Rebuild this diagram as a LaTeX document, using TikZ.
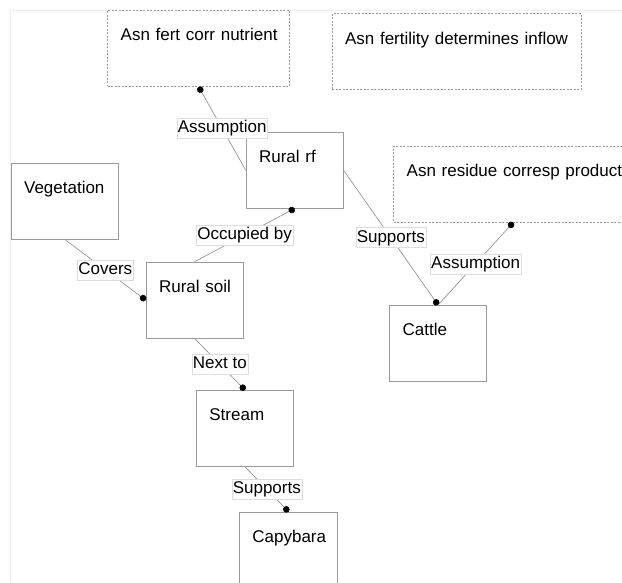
\documentclass[tikz,border=0pt]{standalone}
\usepackage{fontspec}
\setmainfont{Liberation Sans}
\usetikzlibrary{arrows.meta}
\definecolor{boxgray}{HTML}{9A9A9A}
\definecolor{linegray}{HTML}{8A8A8A}
\definecolor{labgray}{HTML}{DDDDDD}
\definecolor{framegray}{HTML}{EEEEEE}
\tikzset{
  entity/.style={draw=boxgray, line width=0.8pt, fill=white, anchor=north west,
    inner xsep=13pt, inner ysep=0pt, text height=30.5pt, text depth=45.5pt,
    align=left, font=\fontsize{17}{20}\selectfont},
  asnbox/.style={entity, dash pattern=on 2pt off 1.5pt},
  conn/.style={draw=linegray, line width=0.6pt, -{Circle[length=6.5pt,width=6.5pt,black]}},
  lab/.style={draw=labgray, line width=0.5pt, fill=white, inner xsep=1pt, inner ysep=2pt,
    text height=12.5pt, text depth=3.5pt, font=\fontsize{17}{20}\selectfont, midway}
}
\begin{document}
\begin{tikzpicture}[x=1pt,y=-1pt]
\useasboundingbox (0,0) rectangle (622,582);
\clip (0,0) rectangle (622,582);
\fill[white] (0,0) rectangle (622,582);
\draw[framegray, line width=0.7pt] (10.5,582) -- (10.5,10) -- (622,10);

\node[asnbox, text width=156pt] (fert) at (107.3,10) {\mbox{Asn fert corr nutrient}};
\node[asnbox, text width=223pt] (inflow) at (331.7,13.3) {\mbox{Asn fertility determines inflow}};
\node[asnbox, text width=213pt] (residue) at (393.3,145.7) {\mbox{Asn residue corresp product}};
\node[entity, text width=71pt] (ruralrf) at (245.7,131.7) {\mbox{Rural rf}};
\node[entity, text width=81.6pt] (veg) at (10.7,162.7) {\mbox{Vegetation}};
\node[entity, text width=71pt] (soil) at (145.7,261.7) {\mbox{Rural soil}};
\node[entity, text width=70.7pt] (cattle) at (389.3,305) {\mbox{Cattle}};
\node[entity, text width=71.3pt] (stream) at (196,390) {\mbox{Stream}};
\node[entity, text width=72.3pt] (capy) at (239,511.7) {\mbox{Capybara}};

\draw[conn] (ruralrf.west) -- node[lab] {Assumption} (fert.south);
\draw[conn] (soil.north) -- node[lab] {Occupied by} (ruralrf.south);
\draw[conn] (veg.south) -- node[lab] {Covers} (soil.west);
\draw[conn] (ruralrf.east) -- node[lab] {Supports} (cattle.north);
\draw[conn] (cattle.north) -- node[lab] {Assumption} (residue.south);
\draw[conn] (soil.south) -- node[lab] {Next to} (stream.north);
\draw[conn] (stream.south) -- node[lab] {Supports} (capy.north);
\end{tikzpicture}
\end{document}
